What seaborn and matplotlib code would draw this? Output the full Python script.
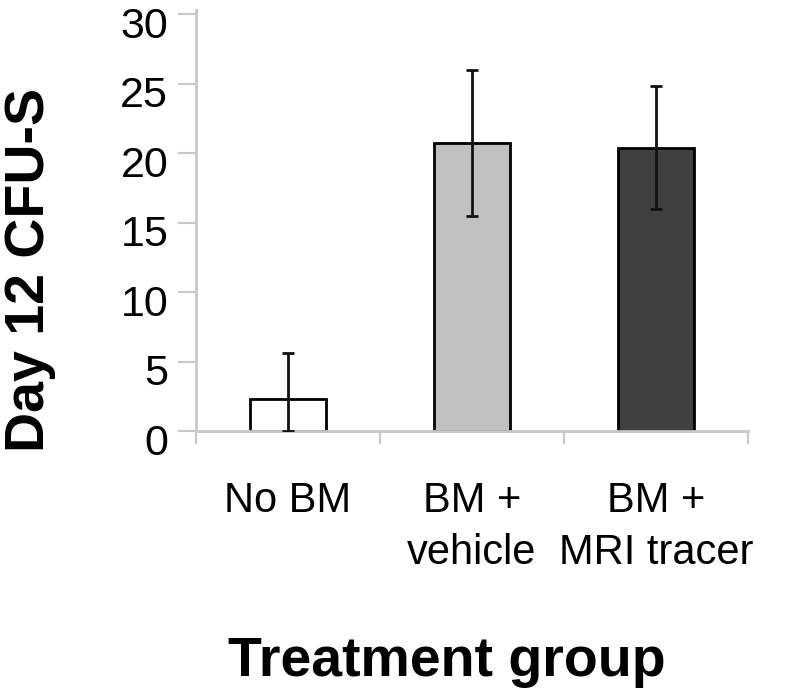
import matplotlib
matplotlib.use("Agg")
import matplotlib.pyplot as plt
import matplotlib.transforms as mtransforms
import seaborn as sns
import pandas as pd

# ---- data ----
categories = ["No BM", "BM +\nvehicle", "BM +\nMRI tracer"]
means = [2.3, 20.7, 20.4]
err_lower = [2.3, 5.2, 4.4]
err_upper = [3.3, 5.3, 4.4]
bar_colors = ["#ffffff", "#c0c0c0", "#404040"]
y_ticks = [0, 5, 10, 15, 20, 25, 30]

sns.set_style("white")
plt.rcParams["font.family"] = ["Liberation Sans", "DejaVu Sans"]
plt.rcParams["text.color"] = "black"
plt.rcParams["axes.labelcolor"] = "black"
plt.rcParams["xtick.labelcolor"] = "black"
plt.rcParams["ytick.labelcolor"] = "black"

df = pd.DataFrame({"group": categories, "cfu": means})

fig = plt.figure(figsize=(8, 7), dpi=100)
ax = fig.add_axes([196 / 800, 1 - 431 / 700, 552 / 800, 421 / 700])

sns.barplot(data=df, x="group", y="cfu", hue="group", palette=bar_colors,
            order=categories, hue_order=categories, legend=False,
            width=0.41, edgecolor="black", linewidth=2, ax=ax, errorbar=None)

ax.errorbar(range(len(categories)), means, yerr=[err_lower, err_upper],
            fmt="none", ecolor="#111111", elinewidth=2, capsize=4, capthick=2,
            zorder=5)

ax.set_xlim(-0.5, 2.5)
ax.set_ylim(0, 30.3)
ax.set_yticks(y_ticks)
ax.set_yticklabels([str(t) for t in y_ticks], fontsize=31, color="black")

# category boundaries as major ticks, labels at centres as minor ticks
ax.set_xticks([-0.5, 0.5, 1.5, 2.5])
ax.set_xticklabels([])
ax.set_xticks(range(len(categories)), minor=True)
ax.set_xticklabels(categories, minor=True, fontsize=30, color="black",
                   linespacing=1.4)
ax.tick_params(axis="x", which="minor", length=0, pad=36)
ax.tick_params(axis="x", which="major", direction="out", length=9,
               width=1.5, color="#c8c8c8", bottom=True)
ax.tick_params(axis="y", direction="out", length=13, width=1.5,
               color="#c8c8c8", pad=7, left=True)

# shift y tick labels slightly downward like the reference
offset = mtransforms.ScaledTranslation(0, -8 / 100, fig.dpi_scale_trans)
for lbl in ax.get_yticklabels():
    lbl.set_transform(lbl.get_transform() + offset)

sns.despine(ax=ax, top=True, right=True)
for side in ["left", "bottom"]:
    ax.spines[side].set_color("#c8c8c8")
    ax.spines[side].set_linewidth(2)

ax.set_ylabel("Day 12 CFU-S", fontsize=40, fontweight="bold", va="center",
              color="black")
ax.yaxis.set_label_coords((30 - 196) / 552, (431 - 270) / 421)
ax.set_xlabel("Treatment group", fontsize=40, fontweight="bold", va="center",
              color="black")
ax.xaxis.set_label_coords((447 - 196) / 552, (431 - 662) / 421)

fig.savefig("out.png", dpi=100)
